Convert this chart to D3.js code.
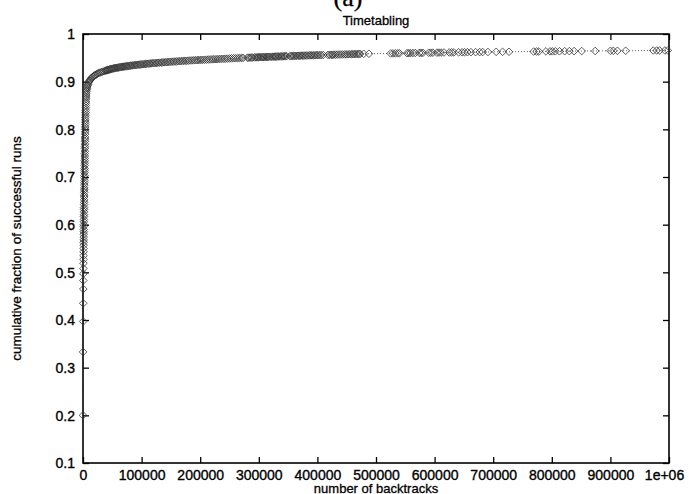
<!DOCTYPE html>
<html>
<head>
<meta charset="utf-8">
<script src="https://cdn.jsdelivr.net/npm/d3@7"></script>
<style>
  html, body { margin: 0; padding: 0; background: #fff; }
  svg { display: block; }
  text { font-family: "Liberation Sans", Arial, Helvetica, sans-serif; fill: #000; }
</style>
</head>
<body>
<svg id="chart" width="689" height="494"></svg>
<script>
// Cumulative fraction of successful runs against the number of backtracks.
// Each entry: [backtracks, cumulative fraction]
const runs = [
  [0, 0.200], [150, 0.333], [300, 0.397], [420, 0.435], [510, 0.465], [580, 0.483], [640, 0.497],
  [700, 0.508], [770, 0.519], [830, 0.527], [880, 0.535], [945, 0.543], [990, 0.550], [1045, 0.557],
  [1090, 0.563], [1135, 0.568], [1180, 0.574], [1235, 0.580], [1270, 0.585], [1330, 0.590], [1375, 0.596],
  [1420, 0.600], [1480, 0.606], [1525, 0.611], [1590, 0.617], [1630, 0.621], [1690, 0.627], [1745, 0.632],
  [1780, 0.636], [1850, 0.642], [1895, 0.647], [1950, 0.652], [2010, 0.658], [2060, 0.662], [2115, 0.668],
  [2170, 0.673], [2220, 0.677], [2285, 0.683], [2330, 0.688], [2390, 0.693], [2455, 0.699], [2500, 0.703],
  [2570, 0.709], [2625, 0.714], [2680, 0.718], [2745, 0.724], [2810, 0.729], [2860, 0.734], [2935, 0.739],
  [2990, 0.744], [3065, 0.749], [3120, 0.754], [3195, 0.760], [3260, 0.764], [3325, 0.769], [3400, 0.775],
  [3470, 0.780], [3545, 0.784], [3620, 0.790], [3705, 0.795], [3780, 0.800], [3865, 0.805], [3950, 0.810],
  [4045, 0.815], [4130, 0.820], [4235, 0.825], [4330, 0.830], [4445, 0.835], [4550, 0.840], [4675, 0.845],
  [4800, 0.850], [4945, 0.855], [5090, 0.859], [5255, 0.864], [5420, 0.868], [5615, 0.872], [5820, 0.876],
  [6060, 0.880], [6320, 0.883], [6710, 0.886], [7190, 0.889], [7820, 0.892], [8480, 0.894], [9330, 0.897],
  [10150, 0.900], [11240, 0.902], [12290, 0.904], [13560, 0.906], [14790, 0.908], [16230, 0.910],
  [17690, 0.911], [19350, 0.913], [20980, 0.914], [22840, 0.915], [24660, 0.917], [26750, 0.918],
  [28770, 0.919], [31060, 0.920], [33250, 0.921], [35780, 0.922], [38140, 0.923], [39500, 0.9235],
  [40870, 0.924], [42100, 0.9245], [43460, 0.925], [44900, 0.9255], [46380, 0.926], [47700, 0.9265],
  [49150, 0.927], [50600, 0.9273], [52260, 0.928], [53700, 0.9283], [55240, 0.9287], [56800, 0.929],
  [58570, 0.9293], [60100, 0.9297], [61760, 0.930], [63500, 0.9304], [65280, 0.9308], [66900, 0.9311],
  [68650, 0.9314], [70500, 0.9317], [72380, 0.932], [74100, 0.9324], [75960, 0.9327], [77900, 0.933],
  [79870, 0.9333], [81700, 0.9336], [83650, 0.934], [85600, 0.9343], [87790, 0.9346], [89700, 0.9349],
  [91760, 0.9352], [93900, 0.9355], [96080, 0.9358], [98100, 0.936], [100250, 0.9363], [102500, 0.9366],
  [104760, 0.9369], [106900, 0.9372], [109140, 0.9375], [111500, 0.9378], [113870, 0.938], [116100, 0.9383],
  [118450, 0.9386], [120900, 0.9388], [123380, 0.9391], [125700, 0.9393], [128150, 0.9396], [130700, 0.9398],
  [133290, 0.9401], [135700, 0.9403], [138240, 0.9406], [140900, 0.9408], [143580, 0.9411], [146100, 0.9413],
  [148720, 0.9416], [151500, 0.9418], [154260, 0.9421], [156900, 0.9423], [159640, 0.9425], [162500, 0.9428],
  [165370, 0.943], [168100, 0.9432], [170950, 0.9435], [173900, 0.9437], [176880, 0.9439], [179700, 0.9441],
  [182660, 0.9444], [185800, 0.9446], [188790, 0.9448], [191700, 0.945], [194750, 0.9452], [197900, 0.9454],
  [201080, 0.9456], [204100, 0.9458], [207240, 0.946], [210500, 0.9462], [213780, 0.9464], [216900, 0.9466],
  [220150, 0.9468], [223500, 0.947], [226890, 0.9472], [230100, 0.9474], [233460, 0.9476], [236900, 0.9478],
  [240380, 0.948], [243500, 0.9482], [246800, 0.9484], [250300, 0.9486], [253600, 0.9488], [257200, 0.949],
  [260500, 0.9492], [264100, 0.9494], [267300, 0.9496], [270800, 0.9498], [273400, 0.950],
  [280500, 0.9503], [282700, 0.9504], [285100, 0.9505], [287600, 0.9506], [289500, 0.9507],
  [293000, 0.9509], [295200, 0.951], [297500, 0.9511], [299300, 0.9512], [301000, 0.9513], [303200, 0.9514],
  [305500, 0.9515], [307400, 0.9516], [309000, 0.9517], [311300, 0.9518], [313500, 0.9519], [315200, 0.952],
  [317000, 0.9521], [319600, 0.9522], [322000, 0.9523], [324300, 0.9524], [326500, 0.9525], [328200, 0.9526],
  [330000, 0.9527], [332300, 0.9528], [334500, 0.9529], [336800, 0.953], [339000, 0.9531], [341000, 0.9532],
  [343000, 0.9533], [345300, 0.9534], [347500, 0.9535],
  [353000, 0.9537], [355200, 0.9538], [357500, 0.9539], [359800, 0.954], [362000, 0.9541], [364500, 0.9542],
  [367000, 0.9543], [369300, 0.9544], [371500, 0.9545], [373800, 0.9546], [376000, 0.9547], [378500, 0.9548],
  [381000, 0.9549], [383700, 0.955], [386500, 0.9551], [388800, 0.9552], [391000, 0.9553], [393500, 0.9554],
  [396000, 0.9555], [398500, 0.9556], [401000, 0.9557], [403700, 0.9558], [406500, 0.9559], [410000, 0.956],
  [418000, 0.9562], [420800, 0.9563], [423500, 0.9564], [425700, 0.9565], [428000, 0.9566], [431000, 0.9567],
  [434000, 0.9568], [437000, 0.9569], [440000, 0.957], [443200, 0.9571], [446500, 0.9572], [449200, 0.9573],
  [452000, 0.9574], [455000, 0.9575], [458000, 0.9576], [460500, 0.9577], [463000, 0.9578], [465700, 0.9579],
  [468500, 0.958], [470800, 0.9581], [473000, 0.9582],
  [479000, 0.9584], [488000, 0.9586],
  [525000, 0.9592], [529000, 0.9593], [533000, 0.9594], [537000, 0.9595], [540000, 0.9596],
  [553000, 0.9598], [556000, 0.9599], [559000, 0.960], [563000, 0.9601], [567000, 0.9602], [574000, 0.9603],
  [577000, 0.9604], [580000, 0.9605], [590000, 0.9607], [593500, 0.9607], [597000, 0.9608], [604000, 0.9609],
  [607500, 0.961], [611000, 0.961], [616000, 0.9611], [625000, 0.9613], [629000, 0.9614], [633000, 0.9614],
  [641000, 0.9616], [647000, 0.9617], [651000, 0.9618], [656000, 0.9618], [662000, 0.9619], [670000, 0.962],
  [677000, 0.9621], [682000, 0.9622],
  [691000, 0.9623],
  [705000, 0.9625], [716000, 0.9626], [727000, 0.9627],
  [769000, 0.9632], [774000, 0.9633], [778000, 0.9633], [790000, 0.9635], [797000, 0.9636], [801000, 0.9636],
  [806000, 0.9637], [813000, 0.9638], [822000, 0.9639], [830000, 0.964],
  [838000, 0.9641], [851000, 0.9642],
  [874000, 0.9644],
  [900000, 0.9647], [905000, 0.9647], [912000, 0.9648], [926000, 0.9649],
  [973000, 0.9653], [979000, 0.9654], [984000, 0.9654], [993000, 0.9655], [998000, 0.9656]
];

const xTickValues = [0, 100000, 200000, 300000, 400000, 500000, 600000, 700000, 800000, 900000, 1000000];
const xTickLabels = ["0", "100000", "200000", "300000", "400000", "500000", "600000", "700000", "800000", "900000", "1e+06"];
const yTickValues = [0.1, 0.2, 0.3, 0.4, 0.5, 0.6, 0.7, 0.8, 0.9, 1];
const yTickLabels = ["0.1", "0.2", "0.3", "0.4", "0.5", "0.6", "0.7", "0.8", "0.9", "1"];

const titleText = "Timetabling";
const panelTag = "(a)";
const xLabel = "number of backtracks";
const yLabel = "cumulative fraction of successful runs";

const margin = { left: 83, right: 20, top: 34, bottom: 31 };
const W = 689, H = 494;
const plotW = W - margin.left - margin.right;
const plotH = H - margin.top - margin.bottom;

const svg = d3.select("#chart");
svg.append("rect").attr("width", W).attr("height", H).attr("fill", "#fff");

const x = d3.scaleLinear().domain([0, 1000000]).range([0, plotW]);
const y = d3.scaleLinear().domain([0.1, 1]).range([plotH, 0]);

const g = svg.append("g").attr("transform", `translate(${margin.left},${margin.top})`);

// axes with inward ticks on all four sides
const tickLen = 6;
const fmtX = (d, i) => xTickLabels[i];
const fmtY = (d, i) => yTickLabels[i];

const axB = g.append("g").attr("transform", `translate(0,${plotH})`)
  .call(d3.axisBottom(x).tickValues(xTickValues).tickFormat(fmtX).tickSizeInner(-tickLen).tickSizeOuter(0));
axB.selectAll("text").attr("y", 17).attr("dy", "0").style("font-size", "14px");
axB.selectAll("text").filter((d, i) => i === xTickValues.length - 1).attr("dx", "-5");

const axT = g.append("g")
  .call(d3.axisTop(x).tickValues(xTickValues).tickFormat("").tickSizeInner(-tickLen).tickSizeOuter(0));

const axL = g.append("g")
  .call(d3.axisLeft(y).tickValues(yTickValues).tickFormat(fmtY).tickSizeInner(-tickLen).tickSizeOuter(0));
axL.selectAll("text").attr("x", -8).attr("dy", "0.35em").style("font-size", "14px");

const axR = g.append("g").attr("transform", `translate(${plotW},0)`)
  .call(d3.axisRight(y).tickValues(yTickValues).tickFormat("").tickSizeInner(-tickLen).tickSizeOuter(0));

[axB, axT, axL, axR].forEach(a => {
  a.select(".domain").remove();
  a.selectAll("line").attr("stroke", "#000").attr("stroke-width", 1.3);
  a.selectAll("text").attr("fill", "#000")
    .style("font-family", '"Liberation Sans", Arial, sans-serif')
    .style("stroke", "#000").style("stroke-width", "0.35px");
});

// plot border
g.append("rect").attr("width", plotW).attr("height", plotH)
  .attr("fill", "none").attr("stroke", "#000").attr("stroke-width", 1.6);

// dotted connecting line
const line = d3.line().x(d => x(d[0])).y(d => y(d[1]));
g.append("path").datum(runs).attr("d", line)
  .attr("fill", "none").attr("stroke", "#333").attr("stroke-width", 0.8)
  .attr("stroke-dasharray", "1,2");

// diamond point markers
const r = 3.8;
const diamond = `M0,${-r}L${r},0L0,${r}L${-r},0Z`;
g.append("g").selectAll("path").data(runs).join("path")
  .attr("d", diamond)
  .attr("transform", d => `translate(${x(d[0])},${y(d[1])})`)
  .attr("fill", "none").attr("stroke", "#333").attr("stroke-width", 0.8);

// titles
svg.append("text").attr("x", 348).attr("y", 6).attr("text-anchor", "middle")
  .style("font-family", '"Liberation Serif", "Times New Roman", serif').style("font-size", "26px")
  .style("stroke", "#000").style("stroke-width", "0.3px")
  .text(panelTag);
svg.append("text").attr("x", margin.left + plotW / 2).attr("y", 25).attr("text-anchor", "middle")
  .style("font-size", "13px").style("stroke", "#000").style("stroke-width", "0.3px").text(titleText);
svg.append("text").attr("x", margin.left + plotW / 2).attr("y", 493).attr("text-anchor", "middle")
  .style("font-size", "13px").style("stroke", "#000").style("stroke-width", "0.3px").text(xLabel);
svg.append("text").attr("transform", `translate(21,${margin.top + plotH / 2}) rotate(-90)`)
  .attr("text-anchor", "middle").style("font-size", "13.5px")
  .style("stroke", "#000").style("stroke-width", "0.3px").text(yLabel);
</script>
</body>
</html>
